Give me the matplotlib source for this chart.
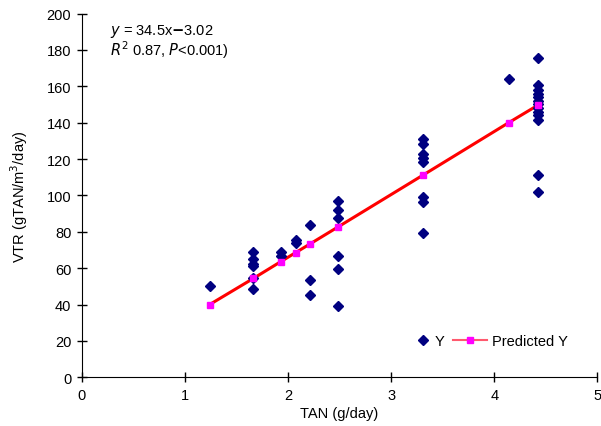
import matplotlib.pyplot as plt

plt.rcParams['font.family'] = ['Liberation Sans', 'DejaVu Sans']

# Observed data (Y)
tan_obs = [1.24,
           1.665, 1.665, 1.665, 1.665, 1.665, 1.665,
           1.93, 1.93,
           2.075, 2.075,
           2.21, 2.21, 2.21,
           2.483, 2.483, 2.483, 2.483, 2.483, 2.483,
           3.313, 3.313, 3.313, 3.313, 3.313, 3.313, 3.313, 3.313,
           4.145,
           4.423, 4.423, 4.423, 4.423, 4.423, 4.423, 4.423, 4.423, 4.423,
           4.423, 4.423, 4.423, 4.423]
vtr_obs = [50.0,
           68.8, 65.1, 62.3, 61.0, 54.5, 48.6,
           68.8, 66.9,
           75.5, 73.9,
           83.9, 53.7, 45.3,
           97.2, 92.0, 87.5, 66.9, 59.6, 39.4,
           131.0, 128.0, 122.8, 120.5, 118.3, 99.0, 96.6, 79.2,
           164.1,
           175.6, 160.5, 158.0, 156.0, 154.0, 152.0, 150.0, 148.0, 146.0,
           144.0, 141.5, 111.5, 101.9]

# Predicted Y
tan_pred = [1.24, 1.665, 1.93, 2.075, 2.21, 2.483, 3.313, 4.14, 4.423]
vtr_pred = [40.0, 54.4, 63.6, 68.6, 73.2, 82.6, 111.3, 140.0, 149.6]

fig = plt.figure(figsize=(6.01, 4.27), dpi=100)
ax = fig.add_axes([0.136, 0.114, 0.858, 0.852])

ax.plot(tan_pred, vtr_pred, color='#ff0000', lw=2.2, zorder=2)
h_obs, = ax.plot(tan_obs, vtr_obs, 'D', color='#000080', ms=5.2, ls='none', zorder=3)
ax.plot(tan_pred, vtr_pred, 's', color='#ff00ff', ms=4.8, ls='none', zorder=4)
# legend proxy for predicted series
h_pred, = ax.plot([], [], color='#ff5a6e', lw=1.5, marker='s', ms=4, mfc='#ff00ff',
                  mec='#ff00ff')

ax.set_xlim(0, 5)
ax.set_ylim(0, 200)
ax.set_xticks(range(0, 6))
ax.set_yticks(range(0, 201, 20))
ax.tick_params(direction='inout', length=7, width=1, labelsize=10.5, pad=4)
for s in ['top', 'right']:
    ax.spines[s].set_visible(False)
ax.set_xlabel('TAN (g/day)', fontsize=10.5, labelpad=3)
ax.set_ylabel('VTR (gTAN/m$^3$/day)', fontsize=10.5, labelpad=12)

ax.text(0.055, 0.952, r'$y$ = 34.5x$\mathbf{-}$3.02', transform=ax.transAxes,
        fontsize=10.5, va='center')
ax.text(0.055, 0.903, r'$R^2$ 0.87, $P$<0.001)', transform=ax.transAxes,
        fontsize=10.5, va='center')

leg1 = ax.legend([h_obs], ['Y'], loc='center left', bbox_to_anchor=(0.65, 0.1),
                 frameon=False, fontsize=10.5, handlelength=0.8, handletextpad=0.4,
                 borderaxespad=0, borderpad=0)
ax.add_artist(leg1)
ax.legend([h_pred], ['Predicted Y'], loc='center left', bbox_to_anchor=(0.72, 0.1),
          frameon=False, fontsize=10.5, handlelength=2.3, handletextpad=0.4,
          borderaxespad=0, borderpad=0)

fig.savefig('out.png', dpi=100)
